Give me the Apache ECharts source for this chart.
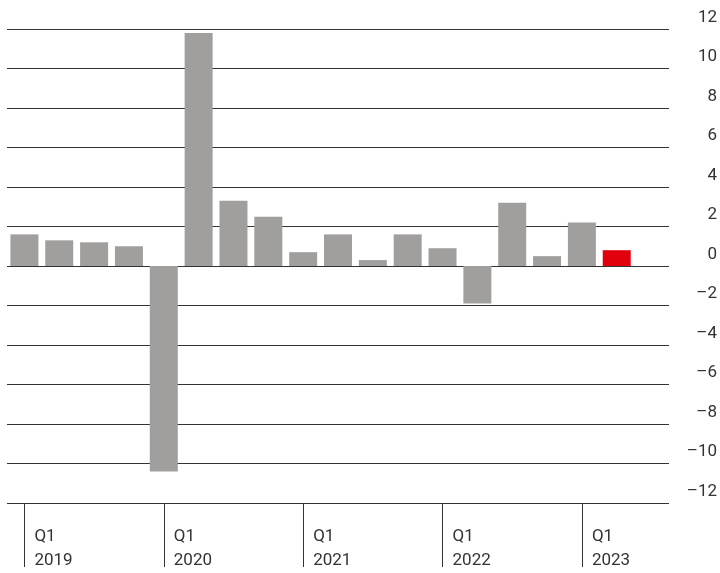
<html>
<head>
<meta charset="utf-8" />
<script src="https://cdn.jsdelivr.net/npm/echarts@6/dist/echarts.min.js"></script>
<style type="text/css">
html, body, #main { width: 100%; height: 100%; margin: 0; background: #fff; }
</style>
</head>
<body>
<div id="main"></div>
<script>
var categories = ['1', '2', '3', '4', '5', '6', '7', '8', '9', '10', '11', '12', '13', '14', '15', '16', '17', '18', ''];
var values = [1.6, 1.3, 1.2, 1.0, -10.4, 11.8, 3.3, 2.5, 0.7, 1.6, 0.3, 1.6, 0.9, -1.9, 3.2, 0.5, 2.2, 0.8];
var yearLabels = { 0: 'Q1\n2019', 4: 'Q1\n2020', 8: 'Q1\n2021', 12: 'Q1\n2022', 16: 'Q1\n2023' };

var chart = echarts.init(document.getElementById('main'));

var data = values.map(function (v, i) {
  return {
    value: v,
    itemStyle: { color: i === values.length - 1 ? '#e2000f' : '#a09f9e' }
  };
});

chart.setOption({
  animation: false,
  grid: { left: 7, right: 48, top: 29, bottom: 70 },
  xAxis: {
    type: 'category',
    data: categories,
    axisLine: { show: false, onZero: false },
    axisTick: {
      show: true,
      alignWithLabel: true,
      length: 64,
      interval: function (i) { return yearLabels[i] !== undefined; },
      lineStyle: { color: '#333', width: 1 }
    },
    axisLabel: {
      interval: function (i) { return yearLabels[i] !== undefined; },
      formatter: function (v, i) { return yearLabels[i] || ''; },
      align: 'left',
      padding: [0, 0, 0, 10],
      margin: 22,
      fontSize: 17,
      lineHeight: 24,
      color: '#333',
      fontFamily: 'Roboto'
    }
  },
  yAxis: {
    type: 'value',
    position: 'right',
    min: -12,
    max: 12,
    interval: 2,
    axisLine: { show: false },
    axisTick: { show: false },
    splitLine: { lineStyle: { color: '#333', width: 1 } },
    axisLabel: {
      align: 'right',
      margin: 48,
      verticalAlign: 'bottom',
      padding: [0, 0, 3, 0],
      fontSize: 17,
      color: '#333',
      fontFamily: 'Roboto',
      formatter: function (v) { return v < 0 ? '\u2013' + Math.abs(v) : String(v); }
    }
  },
  series: [{
    type: 'bar',
    data: data,
    barWidth: 28
  }]
});

window.onresize = function () { chart.resize(); };
</script>
</body>
</html>
